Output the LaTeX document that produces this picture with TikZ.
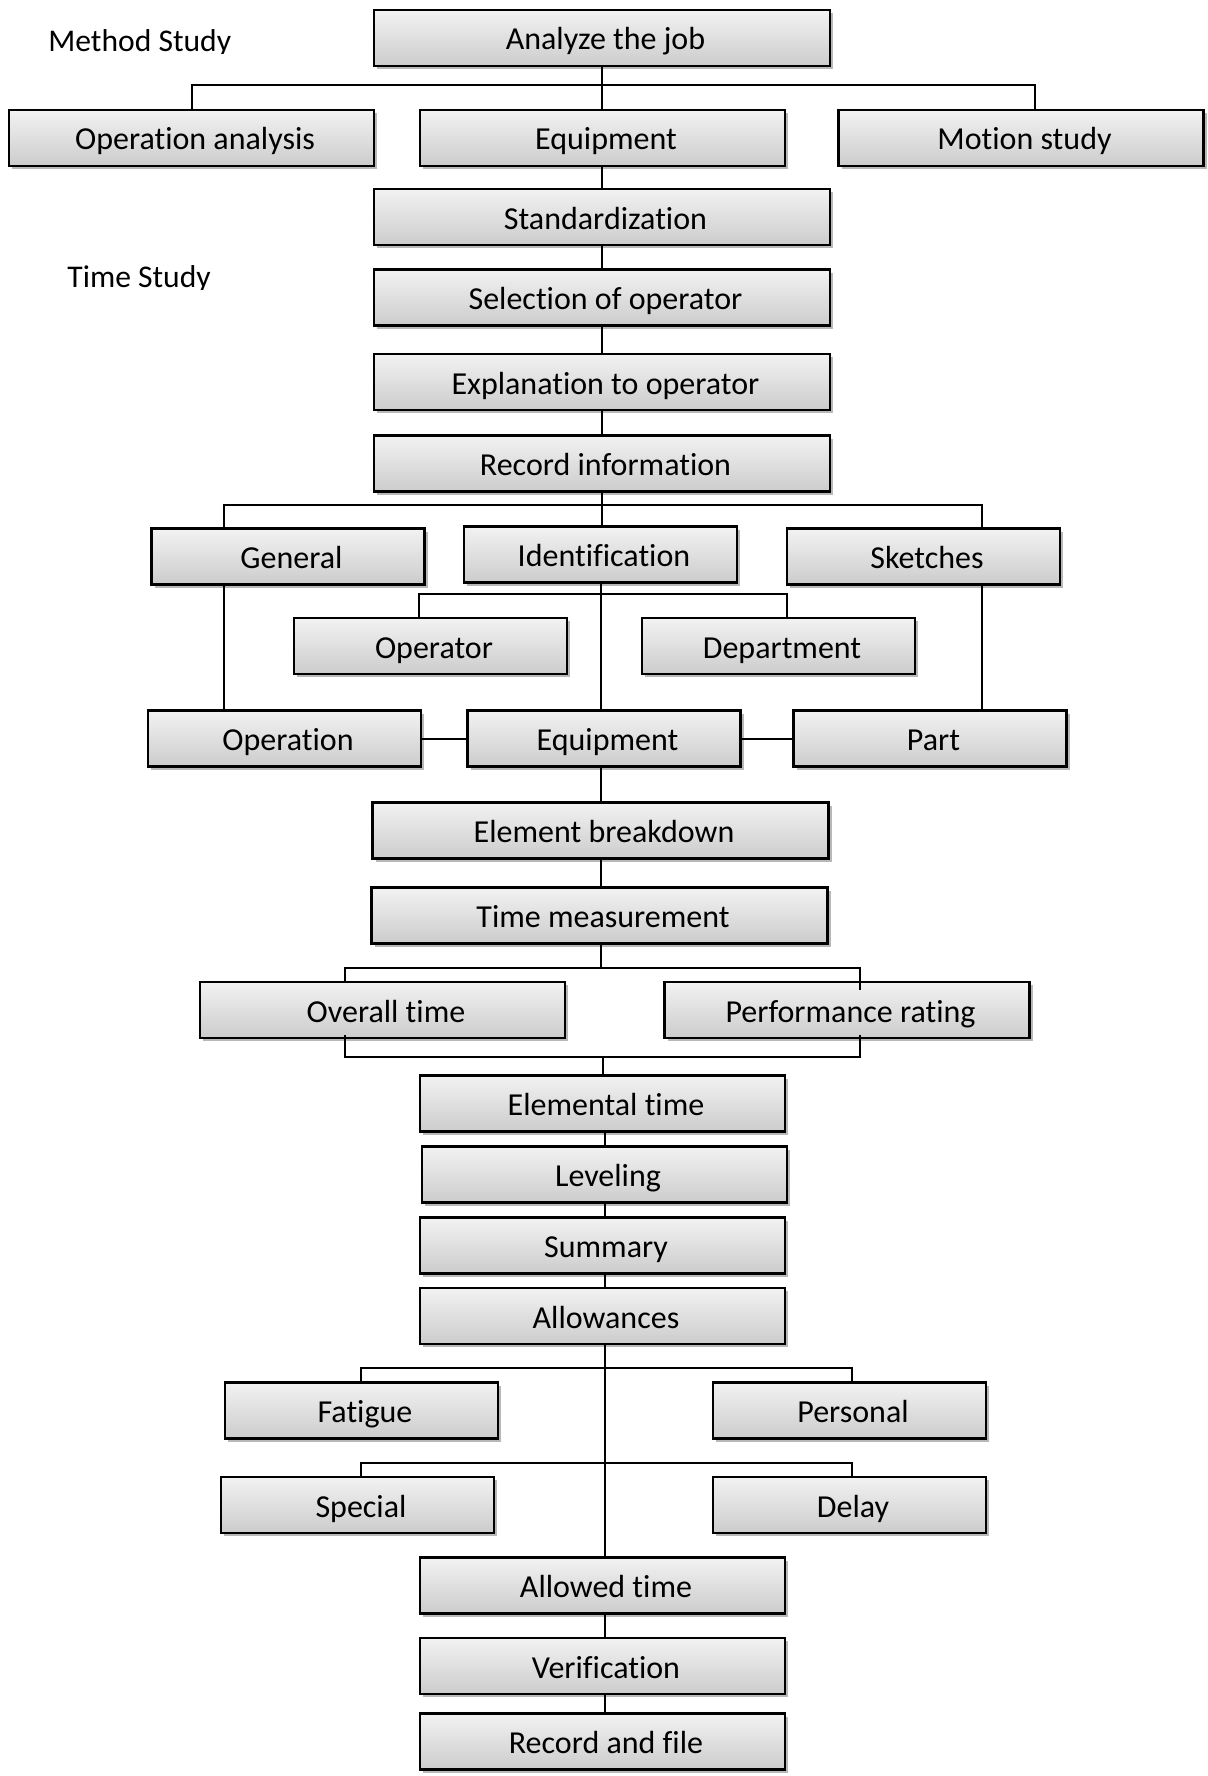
\documentclass[tikz,border=0pt]{standalone}
\usepackage{fontspec}
\setmainfont{Carlito}[Ligatures=NoCommon]
\usetikzlibrary{shadows,calc}

\tikzset{
  box/.style={draw=black, line width=1.1pt, rectangle, inner sep=0pt,
    top color=black!5, bottom color=black!20,
    drop shadow={shadow xshift=1.5pt, shadow yshift=-1.6pt, opacity=0.28, fill=black},
    font=\fontsize{16pt}{19pt}\selectfont, text=black,
    text height=15pt, text depth=3pt,
    execute at begin node={\hspace*{3.5pt}}},
  wide/.style={box, minimum width=228pt, minimum height=28pt},
  mid/.style={box, minimum width=182.5pt, minimum height=28pt},
  narrow/.style={box, minimum width=136.5pt, minimum height=28pt},
  link/.style={draw=black, line width=1pt},
  heading/.style={font=\fontsize{15.8pt}{19pt}\selectfont, inner sep=0pt, anchor=base west}
}

\begin{document}
\begin{tikzpicture}[x=0.5pt, y=-0.5pt]
\useasboundingbox (0,0) rectangle (1208,1776);

% section headings (text boxes cut off just below the baseline)
\begin{scope}
  \clip (0,0) rectangle (320,54);
  \node[heading] (mhead) at (48,52) {Method Study};
\end{scope}
\begin{scope}
  \clip (0,240) rectangle (320,289);
  \node[heading] (thead) at (67,287) {Time Study};
\end{scope}

% method study
\node[wide]   (job)    at (602,38)     {Analyze the job};
\node[mid]    (opan)   at (191.5,138)  {Operation analysis};
\node[mid]    (equipA) at (602.5,138)  {Equipment};
\node[mid]    (motion) at (1021,138)   {Motion study};
\node[wide]   (std)    at (602,217)    {Standardization};

% time study: preparation
\node[wide]   (sel)    at (602,297.5)  {Selection of operator};
\node[wide]   (expl)   at (602,382)    {Explanation to operator};
\node[wide]   (rec)    at (602,463.5)  {Record information};
\node[narrow] (general) at (288,556.5)   {General};
\node[narrow] (ident)   at (600.5,554.5) {Identification};
\node[narrow] (sketch)  at (923.5,556.5) {Sketches};
\node[narrow] (oper)    at (430.5,646)   {Operator};
\node[narrow] (dept)    at (778.5,646)   {Department};
\node[narrow] (operation) at (284.5,738.5) {Operation};
\node[narrow] (equipB)  at (604,738.5)   {Equipment};
\node[narrow] (part)    at (930,738.5)   {Part};

% time study: measurement
\node[wide]   (elem)   at (600.5,830.5)  {Element breakdown};
\node[wide]   (tmeas)  at (599.5,915.5)  {Time measurement};
\node[mid]    (overall) at (382.5,1010)  {Overall time};
\node[mid]    (perf)   at (847,1010)     {Performance rating};
\node[mid]    (elemt)  at (602.5,1103.5) {Elemental time};
\node[mid]    (level)  at (604.5,1174.5) {Leveling};
\node[mid]    (summ)   at (602.5,1245.5) {Summary};
\node[mid]    (allow)  at (602.5,1316)   {Allowances};
\node[narrow] (fatigue) at (361.5,1410.5) {Fatigue};
\node[narrow] (personal) at (849.5,1410.5) {Personal};
\node[narrow] (special) at (357.5,1505)  {Special};
\node[narrow] (delay)  at (849.5,1505)   {Delay};
\node[mid]    (allowed) at (602.5,1585.5) {Allowed time};
\node[mid]    (verif)  at (602.5,1666)   {Verification};
\node[mid]    (recfile) at (602.5,1741.5) {Record and file};

% bus junctions
\coordinate (m1) at (191.5,85);
\coordinate (m2) at (1035,85);
\coordinate (r1) at (224,505);
\coordinate (r2) at (982,505);
\coordinate (i1) at (419,594);
\coordinate (i2) at (787,594);
\coordinate (t1) at (345,968);
\coordinate (t2) at (860,968);
\coordinate (u1) at (345,1057);
\coordinate (u2) at (860,1057);
\coordinate (a1) at (361,1368);
\coordinate (a2) at (852,1368);
\coordinate (a3) at (361,1463);
\coordinate (a4) at (852,1463);

% method study links
\draw[link] (job.south) -- (job.south |- equipA.north);
\draw[link] (opan.north) -- (m1) -- (m2) -- (motion.north -| m2);
\draw[link] (equipA.south -| job.south) -- (std.north -| job.south);
\draw[link] (std.south) -- (sel.north);
\draw[link] (sel.south) -- (expl.north);
\draw[link] (expl.south) -- (rec.north);

% record information branches
\draw[link] (rec.south) -- (rec.south |- ident.north);
\draw[link] (general.north -| r1) -- (r1) -- (r2) -- (sketch.north -| r2);
\draw[link] (general.south -| r1) -- (operation.north -| r1);
\draw[link] (sketch.south -| r2) -- (part.north -| r2);
\draw[link] (ident.south) -- (ident.south |- equipB.north);
\draw[link] (oper.north -| i1) -- (i1) -- (i2) -- (dept.north -| i2);
\draw[link] (operation.east) -- (equipB.west);
\draw[link] (equipB.east) -- (equipB.east -| part.west);
\draw[link] (equipB.south -| ident.south) -- (elem.north -| ident.south);
\draw[link] (elem.south -| ident.south) -- (tmeas.north -| ident.south);

% measurement branches
\draw[link] (tmeas.south -| ident.south) -- (t1 -| ident.south);
\draw[link] (overall.north -| t1) -- (t1) -- (t2) -- ([yshift=-4.5pt]perf.north -| t2);
\draw[link] ([yshift=2pt]overall.south -| u1) -- (u1) -- (u2) -- ([yshift=2pt]perf.south -| u2);
\draw[link] (u1 -| elemt.north) -- (elemt.north);
\draw[link] (elemt.south -| level.north) -- (level.north);
\draw[link] (level.south) -- (level.south |- summ.north);
\draw[link] (summ.south -| level.south) -- (allow.north -| level.south);

% allowances
\draw[link] (allow.south -| level.south) -- (allowed.north -| level.south);
\draw[link] (fatigue.north -| a1) -- (a1) -- (a2) -- (personal.north -| a2);
\draw[link] (special.north -| a3) -- (a3) -- (a4) -- (delay.north -| a4);
\draw[link] (allowed.south -| level.south) -- (verif.north -| level.south);
\draw[link] (verif.south -| level.south) -- (recfile.north -| level.south);
\end{tikzpicture}
\end{document}
